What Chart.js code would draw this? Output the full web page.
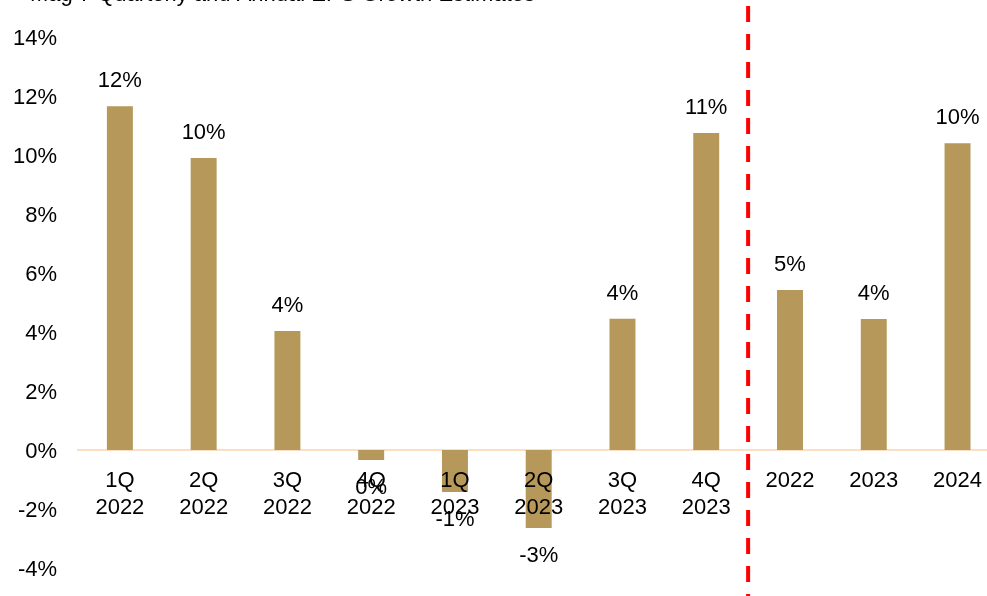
<!DOCTYPE html>
<html>
<head>
<meta charset="utf-8">
<script src="https://cdn.jsdelivr.net/npm/chart.js@4.4.1/dist/chart.umd.min.js"></script>
<style>
  html, body { margin: 0; padding: 0; overflow: hidden; background: #ffffff; }
  #wrap { position: relative; width: 1000px; height: 596px; }
</style>
</head>
<body>
<div id="wrap"><canvas id="c" width="1000" height="596"></canvas></div>
<script>
// ---- data ----
const chartTitle = 'Mag 7 Quarterly and Annual EPS Growth Estimates';
const categories = [
  ['1Q', '2022'], ['2Q', '2022'], ['3Q', '2022'], ['4Q', '2022'],
  ['1Q', '2023'], ['2Q', '2023'], ['3Q', '2023'], ['4Q', '2023'],
  '2022', '2023', '2024'
];
const epsGrowth = [11.65, 9.9, 4.03, -0.34, -1.42, -2.64, 4.45, 10.75, 5.42, 4.44, 10.4];
const yTicks = [-4, -2, 0, 2, 4, 6, 8, 10, 12, 14];
const dividerAfterIndex = 7; // red dashed divider between quarterly and annual

const FONT = "'Liberation Sans', Arial, sans-serif";

const dataLabels = {
  id: 'dataLabels',
  afterDatasetsDraw(chart) {
    const ctx = chart.ctx;
    const meta = chart.getDatasetMeta(0);
    ctx.save();
    ctx.font = '22px ' + FONT;
    ctx.fillStyle = '#000000';
    ctx.textAlign = 'center';
    ctx.textBaseline = 'middle';
    meta.data.forEach((bar, i) => {
      const v = epsGrowth[i];
      const txt = Math.round(v) + '%';
      const label = txt === '-0%' ? '0%' : txt;
      const y = v >= 0 ? bar.y - 25 : bar.y + 28;
      ctx.fillText(label, bar.x, y);
    });
    ctx.restore();
  }
};

const divider = {
  id: 'divider',
  afterDraw(chart) {
    const ctx = chart.ctx;
    const xs = chart.scales.x;
    const x = (xs.getPixelForTick(dividerAfterIndex) + xs.getPixelForTick(dividerAfterIndex + 1)) / 2;
    ctx.save();
    ctx.strokeStyle = '#FF0000';
    ctx.lineWidth = 4;
    ctx.setLineDash([16, 12]);
    ctx.beginPath();
    ctx.moveTo(x, 6);
    ctx.lineTo(x, chart.height);
    ctx.stroke();
    ctx.restore();
  }
};

const titleText = {
  id: 'titleText',
  afterDraw(chart) {
    const ctx = chart.ctx;
    ctx.save();
    ctx.font = '22px ' + FONT;
    ctx.fillStyle = '#000000';
    ctx.textAlign = 'left';
    ctx.textBaseline = 'alphabetic';
    ctx.fillText(chartTitle, 30, 1);
    ctx.restore();
  }
};

new Chart(document.getElementById('c'), {
  type: 'bar',
  data: {
    labels: categories,
    datasets: [{
      data: epsGrowth,
      backgroundColor: '#B5985A',
      borderWidth: 0,
      barPercentage: 0.31,
      categoryPercentage: 1.0
    }]
  },
  options: {
    responsive: false,
    animation: false,
    devicePixelRatio: 1,
    layout: { padding: { top: 37, bottom: 28, left: 0, right: 0 } },
    plugins: { legend: { display: false }, tooltip: { enabled: false }, title: { display: false } },
    scales: {
      x: {
        position: { y: 0 },
        offset: true,
        grid: { display: false, drawTicks: false },
        border: { display: true, color: '#FCDFC2', width: 2, z: 0 },
        ticks: {
          z: 1,
          color: '#000000',
          font: { family: FONT, size: 22 },
          padding: 18,
          maxRotation: 0,
          autoSkip: false
        }
      },
      y: {
        min: -4,
        max: 14,
        afterBuildTicks(scale) { scale.ticks = yTicks.map(v => ({ value: v })); },
        afterFit(scale) { scale.width = 78; scale.paddingTop = 0; scale.paddingBottom = 0; },
        grid: { display: false, drawTicks: false },
        border: { display: false },
        ticks: {
          color: '#000000',
          font: { family: FONT, size: 22 },
          padding: 21,
          labelOffset: 1.5,
          callback: v => v + '%'
        }
      }
    }
  },
  plugins: [dataLabels, divider, titleText]
});
</script>
</body>
</html>
